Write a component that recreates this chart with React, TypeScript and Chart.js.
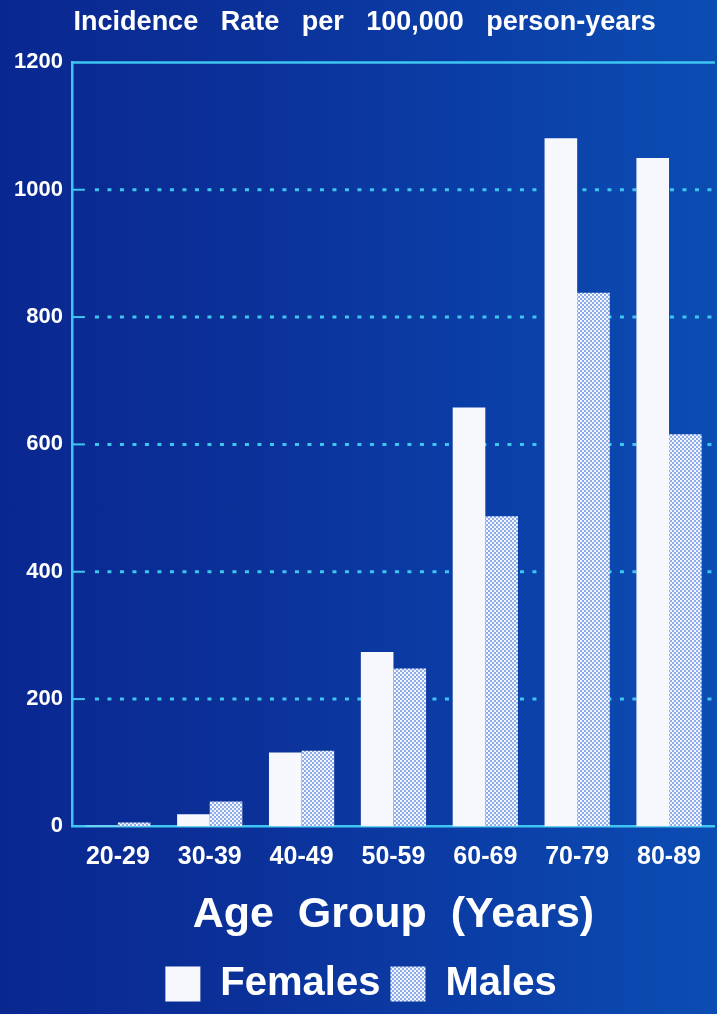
import React, { useEffect, useRef } from "react";
import { Chart, registerables } from "chart.js";

Chart.register(...registerables);

const TITLE = " Incidence   Rate   per   100,000   person-years";
const X_TITLE = "Age  Group  (Years)";
const CATEGORIES = ["20-29", "30-39", "40-49", "50-59", "60-69", "70-79", "80-89"];
const FEMALES = [1, 19, 116, 274, 658, 1081, 1050];
const MALES = [6, 39, 119, 248, 487, 838, 616];
const SERIES_NAMES = ["Females", "Males"];
const Y_MIN = 0;
const Y_MAX = 1200;
const Y_STEP = 200;

const FONT = "'Liberation Sans', Arial, Helvetica, sans-serif";
const CYAN = "#3ec6f0";
const WHITE = "#f6f8fd";

function makeChecker(): CanvasPattern | string {
  const c = document.createElement("canvas");
  c.width = 4;
  c.height = 4;
  const g = c.getContext("2d");
  if (!g) return "#b4c4ec";
  g.fillStyle = "#90abea";
  g.fillRect(0, 0, 4, 4);
  g.fillStyle = "#f2f6ff";
  g.fillRect(0, 0, 2, 2);
  g.fillRect(2, 2, 2, 2);
  const p = g.createPattern(c, "repeat");
  return p || "#b4c4ec";
}

const gridPlugin = {
  id: "dotgrid",
  beforeDatasetsDraw(chart: any) {
    const { ctx, chartArea, scales } = chart;
    const y = scales.y;
    ctx.save();
    ctx.strokeStyle = CYAN;
    y.ticks.forEach((t: any) => {
      if (t.value <= y.min || t.value >= y.max) return;
      const py = y.getPixelForValue(t.value);
      ctx.setLineDash([]);
      ctx.lineWidth = 2;
      ctx.beginPath();
      ctx.moveTo(chartArea.left, py);
      ctx.lineTo(chartArea.left + 13, py);
      ctx.stroke();
      ctx.lineWidth = 3;
      ctx.setLineDash([4, 8.5]);
      ctx.beginPath();
      ctx.moveTo(chartArea.left + 23, py);
      ctx.lineTo(chartArea.right, py);
      ctx.stroke();
    });
    ctx.setLineDash([]);
    ctx.lineWidth = 2.5;
    const top = y.getPixelForValue(y.max);
    ctx.beginPath();
    ctx.moveTo(chartArea.left, top);
    ctx.lineTo(chartArea.right, top);
    ctx.stroke();
    ctx.restore();
  },
};

export default function App() {
  const ref = useRef<HTMLCanvasElement>(null);

  useEffect(() => {
    document.body.style.margin = "0";
    const canvas = ref.current;
    if (!canvas) return;
    const checker = makeChecker();
    const chart = new Chart(canvas, {
      type: "bar",
      data: {
        labels: CATEGORIES,
        datasets: [
          {
            label: SERIES_NAMES[0],
            data: FEMALES,
            backgroundColor: WHITE,
            borderWidth: 0,
          },
          {
            label: SERIES_NAMES[1],
            data: MALES,
            backgroundColor: checker as any,
            borderWidth: 0,
          },
        ],
      },
      options: {
        responsive: false,
        animation: false,
        layout: { padding: { left: 5, right: 0, top: 0, bottom: 0 } },
        datasets: {
          bar: { categoryPercentage: 0.71, barPercentage: 1 },
        },
        scales: {
          x: {
            grid: { display: false, drawTicks: false },
            border: { display: true, color: CYAN, width: 2.5 },
            ticks: {
              color: "#ffffff",
              padding: 16,
              font: { family: FONT, size: 25, weight: "bold" },
              maxRotation: 0,
            },
            title: {
              display: true,
              text: X_TITLE,
              color: "#ffffff",
              font: { family: FONT, size: 43, weight: "bold" },
              padding: { top: 1, bottom: 13 },
            },
          },
          y: {
            min: Y_MIN,
            max: Y_MAX,
            grid: { display: false, drawTicks: false },
            border: { display: true, color: CYAN, width: 2.5 },
            ticks: {
              stepSize: Y_STEP,
              color: "#ffffff",
              padding: 9,
              font: { family: FONT, size: 22, weight: "bold" },
              callback: (v: any) => String(v),
            },
          },
        },
        plugins: {
          title: {
            display: true,
            text: TITLE,
            color: "#ffffff",
            font: { family: FONT, size: 27, weight: "bold" },
            padding: { top: 6, bottom: 24 },
          },
          legend: {
            display: true,
            position: "bottom",
            labels: {
              color: "#ffffff",
              boxWidth: 35,
              boxHeight: 35,
              padding: 10,
              font: { family: FONT, size: 40, weight: "bold" },
            },
          },
          tooltip: { enabled: false },
        },
      },
      plugins: [gridPlugin],
    });
    return () => chart.destroy();
  }, []);

  return (
    <div
      style={{
        width: 717,
        height: 1014,
        background: "linear-gradient(90deg, #0a2790 0%, #0b3199 35%, #0b3da6 65%, #0b4db3 100%)",
      }}
    >
      <canvas ref={ref} width={717} height={1014} style={{ display: "block", width: 717, height: 1014 }} />
    </div>
  );
}
